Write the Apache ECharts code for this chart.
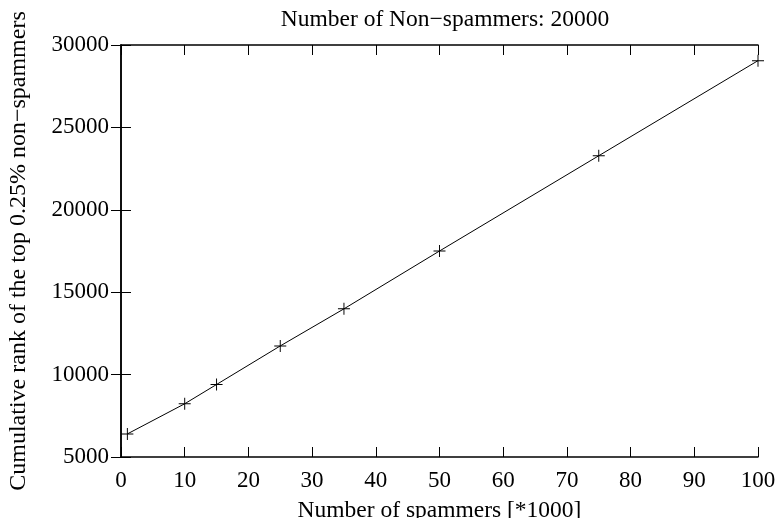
<!DOCTYPE html>
<html><head><meta charset="utf-8">
<script src="https://cdn.jsdelivr.net/npm/echarts@6/dist/echarts.min.js"></script>
<style>html,body{margin:0;padding:0;background:#fff}#c{width:782px;height:518px}</style>
</head><body><div id="c"></div>
<script>
const spammers = [1, 10, 15, 25, 35, 50, 75, 100];
const cumulativeRank = [6400, 8230, 9400, 11740, 13990, 17500, 23280, 29050];
const xTicks = {min: 0, max: 100, interval: 10};
const yTicks = {min: 5000, max: 30000, interval: 5000};
const titleText = 'Number of Non\u2212spammers: 20000';
const xName = 'Number of spammers [*1000]';
const yName = 'Cumulative rank of the top 0.25% non\u2212spammers';

const font = 'Liberation Serif';
const chart = echarts.init(document.getElementById('c'));
const lineStyle = {color: '#000', width: 1.5};
const tick = {show: true, inside: true, length: 10, lineStyle: {color: '#000', width: 1}};
chart.setOption({
  animation: false,
  backgroundColor: '#fff',
  title: {text: titleText, left: 440, textAlign: 'center', top: 3,
    textStyle: {fontFamily: font, fontWeight: 'normal', fontSize: 23.5, color: '#000'}},
  grid: {left: 121, top: 45, right: 24, bottom: 61, containLabel: false, outerBoundsMode: 'none'},
  xAxis: [
    {type: 'value', min: xTicks.min, max: xTicks.max, interval: xTicks.interval, position: 'bottom',
     axisLine: {show: true, lineStyle}, axisTick: tick, splitLine: {show: false},
     axisLabel: {fontFamily: font, fontSize: 23, color: '#000', margin: 12},
     name: xName, nameLocation: 'middle', nameGap: 42,
     nameTextStyle: {fontFamily: font, fontSize: 23.5, color: '#000'}},
    {type: 'value', min: xTicks.min, max: xTicks.max, interval: xTicks.interval, position: 'top',
     axisLine: {show: true, lineStyle}, axisTick: tick, splitLine: {show: false},
     axisLabel: {show: false}}
  ],
  yAxis: [
    {type: 'value', min: yTicks.min, max: yTicks.max, interval: yTicks.interval, position: 'left',
     axisLine: {show: true, lineStyle}, axisTick: tick, splitLine: {show: false},
     axisLabel: {fontFamily: font, fontSize: 23, color: '#000', margin: 12, formatter: v => String(v)},
     name: yName, nameLocation: 'middle', nameGap: 90,
     nameTextStyle: {fontFamily: font, fontSize: 24, color: '#000'}},
    {type: 'value', min: yTicks.min, max: yTicks.max, interval: yTicks.interval, position: 'right',
     axisLine: {show: true, lineStyle}, axisTick: tick, splitLine: {show: false},
     axisLabel: {show: false}}
  ],
  series: [{
    type: 'line',
    data: spammers.map((x, i) => [x, cumulativeRank[i]]),
    lineStyle: {color: '#000', width: 1},
    symbol: 'path://M0,4.6H10V5.4H0Z M4.6,0H5.4V10H4.6Z',
    symbolSize: 12,
    itemStyle: {color: '#000'},
    showSymbol: true,
    clip: false
  }]
});
</script></body></html>
